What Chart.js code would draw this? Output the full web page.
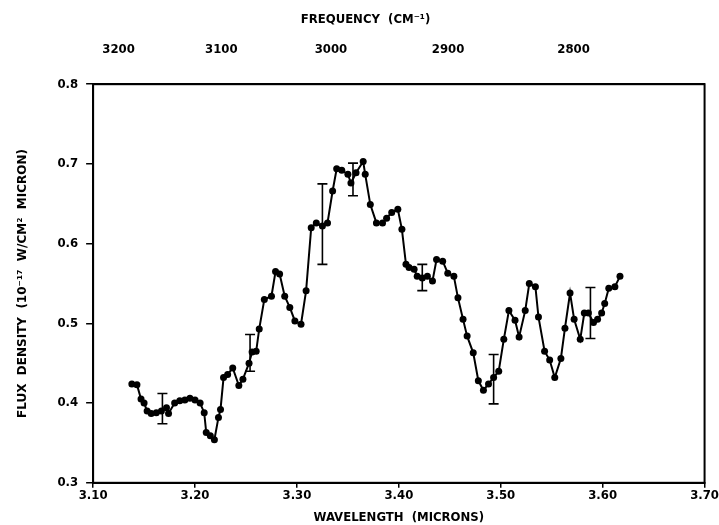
<!DOCTYPE html>
<html>
<head>
<meta charset="utf-8">
<script src="https://cdn.jsdelivr.net/npm/chart.js@4"></script>
<style>
  html, body { margin: 0; padding: 0; background: #fff; }
  #wrap { width: 719px; height: 525px; }
</style>
</head>
<body>
<div id="wrap"><canvas id="spec"></canvas></div>
<script>
// wavelength (microns) and flux density (1e-17 W/cm2 micron)
const wavelength = [
  3.138, 3.143, 3.147, 3.150, 3.153, 3.157, 3.162, 3.167, 3.172, 3.174,
  3.180, 3.185, 3.190, 3.195, 3.200, 3.205, 3.209, 3.211, 3.215, 3.219,
  3.223, 3.225, 3.228, 3.232, 3.237, 3.243, 3.247, 3.253, 3.256, 3.260,
  3.263, 3.268, 3.275, 3.279, 3.283, 3.288, 3.293, 3.298, 3.304, 3.309,
  3.314, 3.319, 3.325, 3.330, 3.335, 3.339, 3.344, 3.350, 3.353, 3.358,
  3.365, 3.367, 3.372, 3.378, 3.384, 3.388, 3.393, 3.399, 3.403, 3.407,
  3.410, 3.415, 3.418, 3.423, 3.428, 3.433, 3.437, 3.443, 3.448, 3.454,
  3.458, 3.463, 3.467, 3.473, 3.478, 3.483, 3.488, 3.493, 3.498, 3.503,
  3.508, 3.514, 3.518, 3.524, 3.528, 3.534, 3.537, 3.543, 3.548, 3.553,
  3.559, 3.563, 3.568, 3.572, 3.578, 3.582, 3.586, 3.591, 3.595, 3.599,
  3.602, 3.606, 3.612, 3.617
];
const flux = [
  0.424, 0.423, 0.405, 0.400, 0.390, 0.387, 0.388, 0.390, 0.394, 0.387,
  0.400, 0.403, 0.404, 0.406, 0.404, 0.400, 0.388, 0.363, 0.359, 0.354,
  0.382, 0.392, 0.432, 0.436, 0.444, 0.422, 0.430, 0.450, 0.464, 0.465,
  0.493, 0.530, 0.534, 0.565, 0.562, 0.534, 0.520, 0.503, 0.499, 0.541,
  0.620, 0.626, 0.622, 0.626, 0.666, 0.694, 0.692, 0.687, 0.676, 0.689,
  0.703, 0.687, 0.649, 0.626, 0.626, 0.632, 0.639, 0.643, 0.618, 0.574,
  0.570, 0.568, 0.559, 0.557, 0.559, 0.553, 0.580, 0.578, 0.563, 0.559,
  0.532, 0.505, 0.484, 0.463, 0.428, 0.416, 0.424, 0.432, 0.440, 0.480,
  0.516, 0.504, 0.483, 0.516, 0.550, 0.546, 0.508, 0.465, 0.454, 0.432,
  0.456, 0.494, 0.538, 0.505, 0.480, 0.513, 0.513, 0.501, 0.505, 0.513,
  0.525, 0.544, 0.546, 0.559
];

// error bars: position, lower and upper limits
const errWave = [3.168, 3.254, 3.325, 3.355, 3.423, 3.493, 3.588];
const errLow  = [0.374, 0.440, 0.574, 0.660, 0.541, 0.399, 0.481];
const errHigh = [0.412, 0.486, 0.675, 0.701, 0.574, 0.461, 0.545];

// top axis, frequency in cm-1
const freqTicks = [3200, 3100, 3000, 2900, 2800];

const labelFont = { family: "'DejaVu Sans Condensed', 'DejaVu Sans', sans-serif", size: 13, weight: 'bold' };
const yTitleFont = { family: "'DejaVu Sans', sans-serif", size: 12, weight: 'bold' };

const errorBars = {
  id: 'errorBars',
  afterDatasetsDraw(chart) {
    const { ctx, scales: { x, y } } = chart;
    ctx.save();
    ctx.strokeStyle = '#000';
    ctx.lineWidth = 1.6;
    errWave.forEach((w, i) => {
      const px = x.getPixelForValue(w);
      const lo = y.getPixelForValue(errLow[i]);
      const hi = y.getPixelForValue(errHigh[i]);
      ctx.beginPath();
      ctx.moveTo(px, lo); ctx.lineTo(px, hi);
      ctx.moveTo(px - 5, lo); ctx.lineTo(px + 5, lo);
      ctx.moveTo(px - 5, hi); ctx.lineTo(px + 5, hi);
      ctx.stroke();
    });
    ctx.restore();
  }
};

const frame = {
  id: 'frame',
  afterDraw(chart) {
    const { ctx, chartArea: a } = chart;
    ctx.save();
    ctx.strokeStyle = '#000';
    ctx.lineWidth = 2;
    ctx.strokeRect(a.left, a.top, a.right - a.left, a.bottom - a.top);
    ctx.restore();
  }
};

new Chart(document.getElementById('spec'), {
  type: 'scatter',
  data: {
    datasets: [{
      data: wavelength.map((w, i) => ({ x: w, y: flux[i] })),
      showLine: true,
      borderColor: '#000',
      borderWidth: 2,
      backgroundColor: '#000',
      pointRadius: 3.5,
      pointBorderWidth: 0
    }]
  },
  options: {
    responsive: true,
    maintainAspectRatio: false,
    animation: false,
    layout: { padding: { left: 12, right: 0, top: 8, bottom: 0 } },
    plugins: {
      legend: { display: false },
      tooltip: { enabled: false },
      title: { display: true, text: 'FREQUENCY  (CM⁻¹)', color: '#000', font: labelFont, padding: { top: 4, bottom: 10 } }
    },
    scales: {
      x: {
        type: 'linear',
        min: 3.10, max: 3.70,
        ticks: { stepSize: 0.1, color: '#000', font: labelFont, padding: 0,
          callback: v => v.toFixed(2) },
        grid: { drawOnChartArea: false, color: '#000', tickLength: 5, lineWidth: 1.5 },
        border: { color: '#000', width: 2 },
        title: { display: true, text: 'WAVELENGTH  (MICRONS)', color: '#000', font: labelFont, padding: { top: 6, bottom: 0 } }
      },
      x2: {
        type: 'linear',
        position: 'top',
        min: 3.10, max: 3.70,
        afterBuildTicks: axis => { axis.ticks = freqTicks.map(f => ({ value: 10000 / f })); },
        ticks: { color: '#000', font: labelFont, padding: 4,
          callback: v => Math.round(10000 / v) },
        grid: { drawOnChartArea: false, color: 'rgba(0,0,0,0)', tickLength: 23 },
        border: { color: '#000', width: 2 }
      },
      y: {
        min: 0.3, max: 0.8,
        ticks: { stepSize: 0.1, color: '#000', font: labelFont, padding: 8,
          callback: v => v.toFixed(1) },
        grid: { drawOnChartArea: false, color: '#000', tickLength: 7, lineWidth: 1.5 },
        border: { color: '#000', width: 2 },
        title: { display: true, text: 'FLUX  DENSITY  (10⁻¹⁷  W/CM²  MICRON)', color: '#000', font: yTitleFont, padding: { top: 4, bottom: 19 } }
      }
    }
  },
  plugins: [errorBars, frame]
});
</script>
</body>
</html>
